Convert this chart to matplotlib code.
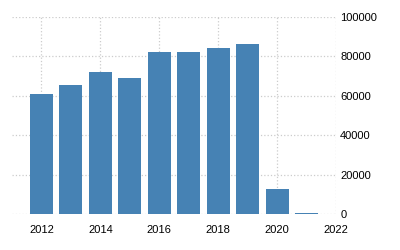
import matplotlib
matplotlib.use("Agg")
import matplotlib.pyplot as plt

# data
years = [2012, 2013, 2014, 2015, 2016, 2017, 2018, 2019, 2020, 2021]
values = [61000, 65500, 72100, 69000, 82200, 82200, 84300, 86300, 12700, 700]
xticks = [2012, 2014, 2016, 2018, 2020, 2022]
yticks = [0, 20000, 40000, 60000, 80000, 100000]

plt.rcParams['font.family'] = ['Liberation Sans', 'DejaVu Sans']

fig = plt.figure(figsize=(4, 2.5), dpi=100)
ax = fig.add_axes([0.03, 0.144, 0.81, 0.788])

ax.bar(years, values, width=0.78, color='#4682B4', zorder=2)

ax.set_xlim(2011.0, 2022)
ax.set_ylim(0, 100000)
ax.set_xticks(xticks)
ax.set_yticks(yticks)
ax.yaxis.tick_right()
ax.tick_params(axis='both', length=0, labelsize=8, colors='black')
ax.tick_params(axis='x', pad=8)
ax.tick_params(axis='y', pad=3)

ax.grid(True, color='#cccccc', linestyle=':', linewidth=0.9, zorder=0)
for s in ax.spines.values():
    s.set_visible(False)

fig.savefig('out.png', dpi=100)
